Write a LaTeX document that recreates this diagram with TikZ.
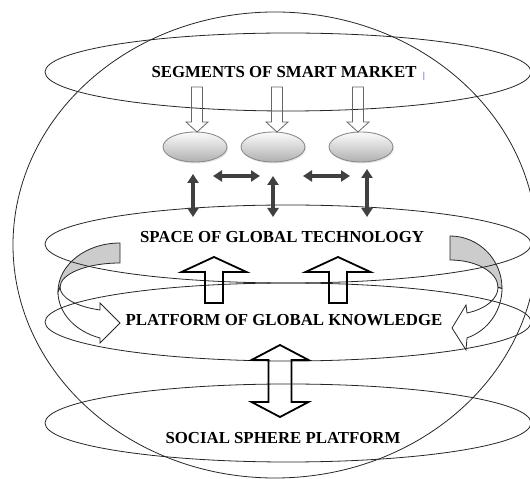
\documentclass[tikz,border=0pt]{standalone}
\usepackage{fontspec}
\setmainfont{Liberation Serif}
\usetikzlibrary{arrows.meta,shapes.geometric,shadows}
\tikzset{
  layer/.style={ellipse,draw=black!85,line width=0.8pt,inner sep=0pt,minimum width=486pt,minimum height=78pt},
  caption/.style={font=\fontsize{16.8}{18}\selectfont\bfseries,inner sep=0pt},
  segment/.style={ellipse,draw=gray!90,line width=0.9pt,top color=gray!3,bottom color=gray!62,inner sep=0pt,
    minimum width=64pt,minimum height=30pt,drop shadow={opacity=0.2,shadow xshift=1pt,shadow yshift=-1.5pt}},
  link/.style={arrows={Triangle[width=11pt,length=9pt]-Triangle[width=11pt,length=9pt]},line width=3.4pt,draw=black!75,fill=black!75},
  feed/.style={draw=gray!80!black,line width=0.8pt},
  fatarrow/.style={draw=black,line width=1.8pt},
  ribbon/.style={draw=black!85,line width=0.8pt}
}

\begin{document}
\begin{tikzpicture}[x=1pt,y=1pt]
            \clip (0,0) rectangle (530,479);
            \draw[ribbon,fill=gray!40] (120,236) arc[start angle=90,end angle=180,x radius=62pt,y radius=48.8pt]
                -- (60,191.8) arc[start angle=180,end angle=90,x radius=60pt,y radius=24.2pt] -- cycle;
            \draw[ribbon,fill=gray!40] (450,243) arc[start angle=90,end angle=0,x radius=52pt,y radius=52.4pt]
                -- (498,191.6) arc[start angle=0,end angle=90,x radius=48pt,y radius=27.4pt] -- cycle;
            \draw[black!85,line width=0.8pt] (275,234) ellipse [x radius=262pt,y radius=233pt];
            \node[layer] (seg) at (288,407) {};
            \node[layer] (tech) at (288,235) {};
            \node[layer] (know) at (288,157) {};
            \node[layer] (soc) at (288,56) {};
            \node[caption] (segt) at (284,407) {SEGMENTS OF SMART MARKET};
            \node[text=blue!75!black,font=\fontsize{9}{9}\selectfont,inner sep=0pt] (mark) at (424,403) {|};
            \node[caption] (techt) at (282,242) {SPACE OF GLOBAL TECHNOLOGY};
            \node[caption] (knowt) at (284,159) {PLATFORM OF GLOBAL KNOWLEDGE};
            \node[caption] (soct) at (283,41) {SOCIAL SPHERE PLATFORM};
            \node[segment] (m1) at (195,332) {};
            \node[segment] (m2) at (273,332) {};
            \node[segment] (m3) at (361,332) {};
            \coordinate (d1) at (197,347);
            \coordinate (d2) at (277,347);
            \coordinate (d3) at (358,347);
            \draw[feed] (d1) -- ++(-11,10) -- ++(5.5,0) -- ++(0,35) -- ++(11,0) -- ++(0,-35) -- ++(5.5,0) -- cycle;
            \draw[feed] (d2) -- ++(-11,10) -- ++(5.5,0) -- ++(0,35) -- ++(11,0) -- ++(0,-35) -- ++(5.5,0) -- cycle;
            \draw[feed] (d3) -- ++(-11,10) -- ++(5.5,0) -- ++(0,35) -- ++(11,0) -- ++(0,-35) -- ++(5.5,0) -- cycle;
            \coordinate (a1) at (193,305);
            \coordinate (b1) at (193,262);
            \coordinate (a2) at (273,303);
            \coordinate (b2) at (273,262);
            \coordinate (a3) at (367,310);
            \coordinate (b3) at (367,262);
            \coordinate (h1) at (213,303);
            \coordinate (h2) at (260,303);
            \coordinate (h3) at (303,303);
            \coordinate (h4) at (350,303);
            \draw[link] (a1) -- (b1);
            \draw[link] (a2) -- (b2);
            \draw[link] (a3) -- (b3);
            \draw[link] (h1) -- (h2);
            \draw[link] (h3) -- (h4);
            \coordinate (u1) at (214,222);
            \coordinate (u2) at (338,222);
            \draw[fatarrow] (u1) -- ++(-32.5,-15) -- ++(23.5,0) -- ++(0,-31) -- ++(18,0) -- ++(0,31) -- ++(23.5,0) -- cycle;
            \draw[fatarrow] (u2) -- ++(-32.5,-15) -- ++(23.5,0) -- ++(0,-31) -- ++(18,0) -- ++(0,31) -- ++(23.5,0) -- cycle;
            \coordinate (w) at (280,134);
            \draw[fatarrow] (w) -- ++(-28.5,-15) -- ++(17,0) -- ++(0,-42) -- ++(-17,0) -- ++(28.5,-15)
                -- ++(28.5,15) -- ++(-17,0) -- ++(0,42) -- ++(17,0) -- cycle;
            \draw[ribbon] (58,187.2) arc[start angle=180,end angle=251.2,x radius=62pt,y radius=48.8pt]
                -- (100,136) -- (120,156) -- (100,176) -- (100,169)
                arc[start angle=250.5,end angle=180,x radius=60pt,y radius=24.2pt] -- cycle;
            \draw[ribbon] (502,190.6) arc[start angle=0,end angle=-70.9,x radius=52pt,y radius=52.4pt]
                -- (466,129) -- (452,151) -- (466,174) -- (467,166)
                arc[start angle=-69.3,end angle=0,x radius=48pt,y radius=27.4pt] -- cycle;
        \end{tikzpicture}
\end{document}
